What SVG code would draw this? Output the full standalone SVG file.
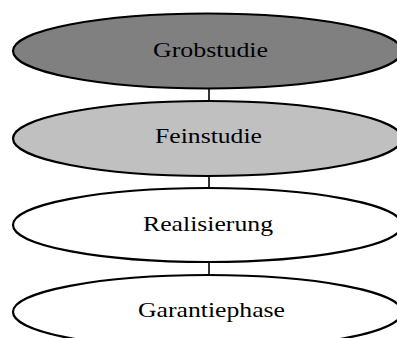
<svg xmlns="http://www.w3.org/2000/svg" width="397" height="338" viewBox="0 0 397 338">
<style>
.n{stroke:#000;stroke-width:2.2}
.t{font-family:"Liberation Serif","Times New Roman",serif;font-size:22px;fill:#000;text-anchor:middle}
.c{stroke:#000;stroke-width:1.6;fill:none}
</style>
<rect width="397" height="338" fill="#fff"/>
<g id="connectors">
<line class="c" x1="209" y1="88" x2="209" y2="101"/>
<line class="c" x1="209" y1="175" x2="209" y2="188"/>
<line class="c" x1="209" y1="262" x2="209" y2="275"/>
</g>
<g id="grobstudie">
<ellipse class="n" cx="207.5" cy="51" rx="194.5" ry="37.5" fill="#808080"/>
<text class="t" x="210.5" y="57" textLength="115" lengthAdjust="spacingAndGlyphs">Grobstudie</text>
</g>
<g id="feinstudie">
<ellipse class="n" cx="207.5" cy="138.5" rx="194.5" ry="37.5" fill="#c0c0c0"/>
<text class="t" x="208.5" y="143" textLength="107" lengthAdjust="spacingAndGlyphs">Feinstudie</text>
</g>
<g id="realisierung">
<ellipse class="n" cx="207.5" cy="225" rx="194.5" ry="37" fill="#fff"/>
<text class="t" x="208" y="231" textLength="130" lengthAdjust="spacingAndGlyphs">Realisierung</text>
</g>
<g id="garantiephase">
<ellipse class="n" cx="207.5" cy="312" rx="194.5" ry="37" fill="#fff"/>
<text class="t" x="211.5" y="317" textLength="147" lengthAdjust="spacingAndGlyphs">Garantiephase</text>
</g>
</svg>
